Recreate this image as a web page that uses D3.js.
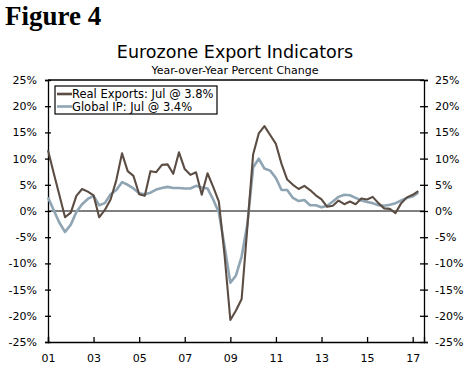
<!DOCTYPE html>
<html>
<head>
<meta charset="utf-8">
<script src="https://cdn.jsdelivr.net/npm/d3@7"></script>
<style>
  body { margin: 0; background: #fff; }
  svg { display: block; }
</style>
</head>
<body>
<svg width="470" height="370"></svg>
<script>
// quarterly readings, first quarter is 2001 Q1
var startYear = 2001;
var realExports = [
  11.6, 7.3, 3.1, -1.2,
  -0.3, 2.9, 4.2, 3.7,
  3.0, -1.2, 0.2, 2.2,
  5.9, 11.0, 7.6, 6.7,
  3.2, 2.9, 7.6, 7.4,
  8.8, 8.9, 7.1, 11.2,
  8.0, 6.9, 7.4, 3.1,
  7.2, 4.6, 1.8, -8.5,
  -20.8, -19.0, -16.8, -3.0,
  10.8, 14.8, 16.2, 14.5,
  12.8, 9.0, 6.0, 5.0,
  4.2, 4.8, 4.0, 3.0,
  2.2, 0.8, 1.0, 2.0,
  1.3, 1.8, 1.3, 2.4,
  2.2, 2.7, 1.5, 0.5,
  0.4, -0.4, 1.5, 2.6,
  3.1, 3.8
];
var globalIP = [
  2.6, 0.2, -2.2, -4.0,
  -2.6, -0.2, 1.3, 2.3,
  2.9, 1.1, 1.5, 3.2,
  4.0, 5.5, 5.0, 4.3,
  3.4, 3.2, 3.5, 4.1,
  4.4, 4.6, 4.4, 4.4,
  4.3, 4.3, 4.8, 4.5,
  4.3, 2.2, -0.3, -6.8,
  -13.7, -12.3, -8.7, -2.5,
  8.3, 10.0, 8.1, 7.7,
  6.3, 4.0, 4.0, 2.5,
  1.9, 2.1, 1.1, 1.1,
  0.7, 1.0, 1.8, 2.7,
  3.1, 3.0, 2.5, 2.0,
  1.7, 1.5, 1.1, 1.0,
  1.2, 1.5, 2.0, 2.5,
  2.8, 3.5
];
var yTicks = [-25, -20, -15, -10, -5, 0, 5, 10, 15, 20, 25];
var xTickYears = [2001, 2003, 2005, 2007, 2009, 2011, 2013, 2015, 2017];
var legendLabels = ["Real Exports: Jul @ 3.8%", "Global IP: Jul @ 3.4%"];
var colors = ["#5b4d43", "#8fa5b4"];

var svg = d3.select("svg");
var font = "Verdana, 'DejaVu Sans', sans-serif";
var margin = {top: 80, right: 46, bottom: 28, left: 48};
var width = 470 - margin.left - margin.right;
var height = 370 - margin.top - margin.bottom;

function quarterDate(i) { return new Date(startYear, i * 3, 1); }

var x = d3.scaleTime()
  .domain([new Date(2001, 0, 1), new Date(2017, 6, 1)])
  .range([0, width]);
var y = d3.scaleLinear().domain([-25, 25]).range([height, 0]);

// headings
svg.append("text")
  .attr("x", 5).attr("y", 25)
  .style("font-family", "'Liberation Serif', Georgia, serif")
  .style("font-weight", "bold")
  .style("font-size", "27px")
  .text("Figure 4");

svg.append("text")
  .attr("x", 235).attr("y", 58)
  .attr("text-anchor", "middle")
  .style("font-family", font)
  .style("font-size", "17.5px")
  .text("Eurozone Export Indicators");

svg.append("text")
  .attr("x", 235).attr("y", 74)
  .attr("text-anchor", "middle")
  .style("font-family", font)
  .style("font-size", "11px")
  .text("Year-over-Year Percent Change");

var g = svg.append("g")
  .attr("transform", "translate(" + margin.left + "," + margin.top + ")");

// axes
var leftAxis = g.append("g")
  .call(d3.axisLeft(y).tickValues(yTicks).tickSize(3).tickPadding(8)
    .tickFormat(function(d) { return d + "%"; }));
leftAxis.selectAll(".tick line").attr("x1", 3);

var rightAxis = g.append("g")
  .attr("transform", "translate(" + width + ",0)")
  .call(d3.axisRight(y).tickValues(yTicks).tickSize(4).tickPadding(7)
    .tickFormat(function(d) { return d + "%"; }));
rightAxis.selectAll(".tick line").attr("x1", -4);

var bottomAxis = g.append("g")
  .attr("transform", "translate(0," + height + ")")
  .call(d3.axisBottom(x)
    .tickValues(xTickYears.map(function(yr) { return new Date(yr, 0, 1); }))
    .tickSize(-5).tickPadding(12)
    .tickFormat(d3.timeFormat("%y")));

g.selectAll(".domain").attr("stroke", "#000").attr("stroke-width", 1.3);
g.selectAll(".tick line").attr("stroke", "#000").attr("stroke-width", 1.3);
g.selectAll(".tick text")
  .style("font-family", font)
  .style("font-size", "11px")
  .attr("fill", "#000");

// top border
g.append("line")
  .attr("x1", 0).attr("x2", width)
  .attr("y1", y(25)).attr("y2", y(25))
  .attr("stroke", "#000").attr("stroke-width", 1.3);

// zero line
g.append("line")
  .attr("x1", 0).attr("x2", width)
  .attr("y1", y(0)).attr("y2", y(0))
  .attr("stroke", "#000").attr("stroke-width", 1.2);

// series
var line = d3.line()
  .x(function(d, i) { return x(quarterDate(i)); })
  .y(function(d) { return y(d); });

g.append("path")
  .datum(globalIP)
  .attr("fill", "none")
  .attr("stroke", colors[1])
  .attr("stroke-width", 2.6)
  .attr("stroke-linejoin", "round")
  .attr("d", line);

g.append("path")
  .datum(realExports)
  .attr("fill", "none")
  .attr("stroke", colors[0])
  .attr("stroke-width", 2.1)
  .attr("stroke-linejoin", "round")
  .attr("d", line);

// legend
var legend = g.append("g").attr("transform", "translate(7,6)");
legend.append("rect")
  .attr("width", 162).attr("height", 28)
  .attr("fill", "#fff")
  .attr("stroke", "#000").attr("stroke-width", 1.2);

legendLabels.forEach(function(label, i) {
  var row = legend.append("g").attr("transform", "translate(0," + (8 + i * 12.5) + ")");
  row.append("line")
    .attr("x1", 2).attr("x2", 17)
    .attr("stroke", colors[i]).attr("stroke-width", 2.6);
  row.append("text")
    .attr("x", 17).attr("y", 4)
    .style("font-family", font)
    .style("font-size", "11.5px")
    .text(label);
});
</script>
</body>
</html>
